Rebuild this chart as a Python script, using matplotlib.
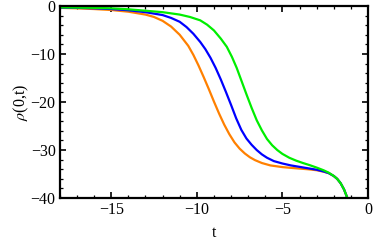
import matplotlib
matplotlib.use("Agg")
import matplotlib.pyplot as plt
from matplotlib.ticker import MultipleLocator, FuncFormatter

# values
t_orange = [-18, -17, -16, -15, -14, -13, -12.5, -12, -11.5, -11, -10.5, -10.2, -9.9,
            -9.6, -9.3, -9.0, -8.7, -8.4, -8.1, -7.8, -7.5, -7.2, -6.9, -6.6, -6.2,
            -5.7, -5, -4.2, -3.5, -3, -2.6, -2.3, -2.0, -1.8, -1.6, -1.4, -1.15]
rho_orange = [-0.4, -0.5, -0.65, -0.85, -1.2, -1.8, -2.3, -3.1, -4.3, -6.0, -8.3, -10.2,
              -12.4, -14.8, -17.3, -19.9, -22.4, -24.7, -26.7, -28.4, -29.7, -30.7, -31.5,
              -32.1, -32.7, -33.2, -33.55, -33.8, -34.0, -34.2, -34.5, -34.8, -35.4,
              -36.0, -36.9, -38.2, -40.5]

t_blue = [-18, -17, -16, -15, -14, -13, -12, -11.5, -11, -10.6, -10.2, -9.8, -9.5, -9.2,
          -8.9, -8.6, -8.3, -8.0, -7.7, -7.4, -7.1, -6.8, -6.5, -6.2, -5.9, -5.5, -5.0,
          -4.5, -4.0, -3.5, -3, -2.6, -2.3, -2.0, -1.8, -1.6, -1.4, -1.15]
rho_blue = [-0.35, -0.4, -0.5, -0.65, -0.9, -1.3, -1.9, -2.5, -3.3, -4.4, -5.8, -7.5,
            -9.0, -10.8, -12.9, -15.3, -17.9, -20.6, -23.4, -25.8, -27.6, -28.9, -30.0,
            -30.9, -31.6, -32.3, -32.8, -33.2, -33.5, -33.8, -34.1, -34.45, -34.8, -35.4,
            -36.0, -36.9, -38.2, -40.5]

t_green = [-18, -17, -16, -15, -14, -13, -12, -11, -10.4, -9.8, -9.4, -9.0, -8.6, -8.25,
           -7.95, -7.67, -7.4, -7.1, -6.8, -6.5, -6.2, -5.9, -5.6, -5.3, -5.0, -4.6,
           -4.2, -3.8, -3.4, -3.0, -2.6, -2.3, -2.0, -1.8, -1.6, -1.4, -1.15]
rho_green = [-0.3, -0.35, -0.4, -0.5, -0.7, -1.0, -1.3, -1.8, -2.3, -3.0, -3.9, -5.1,
             -6.8, -8.5, -10.6, -12.9, -15.5, -18.4, -21.2, -23.8, -25.9, -27.7, -29.0,
             -30.0, -30.8, -31.6, -32.2, -32.7, -33.15, -33.65, -34.2, -34.7, -35.4,
             -36.0, -36.9, -38.2, -40.5]

plt.rcParams['font.family'] = ['Liberation Serif', 'DejaVu Serif']
plt.rcParams['mathtext.fontset'] = 'stix'

fig = plt.figure(figsize=(3.74, 2.47), dpi=100)
ax = fig.add_axes([0.160, 0.198, 0.824, 0.778])

for t, rho, c in [(t_orange, rho_orange, '#ff8000'),
                  (t_blue, rho_blue, '#0000ff'),
                  (t_green, rho_green, '#00ee00')]:
    ax.plot(t, rho, color=c, lw=1.6, solid_joinstyle='round', solid_capstyle='round')

ax.set_xlim(-18, 0)
ax.set_ylim(-40, 0)
ax.xaxis.set_major_locator(MultipleLocator(5))
ax.xaxis.set_minor_locator(MultipleLocator(1))
ax.yaxis.set_major_locator(MultipleLocator(10))
ax.yaxis.set_minor_locator(MultipleLocator(2))
fmt = FuncFormatter(lambda v, p: ('\u2212%d' % -v) if v < 0 else '%d' % v)
ax.xaxis.set_major_formatter(fmt)
ax.yaxis.set_major_formatter(fmt)
ax.tick_params(which='both', direction='in', top=True, right=True, colors='black',
               labelsize=11.5)
ax.tick_params(which='major', length=4, width=1.2, pad=3)
ax.tick_params(which='minor', length=2, width=0.9)
for s in ax.spines.values():
    s.set_linewidth(1.6)

ax.set_xlabel('t', fontsize=11.5, labelpad=5)
ax.set_ylabel(r'$\rho$(0,t)', fontsize=11.5, labelpad=0)

fig.savefig('out.png', dpi=100)
